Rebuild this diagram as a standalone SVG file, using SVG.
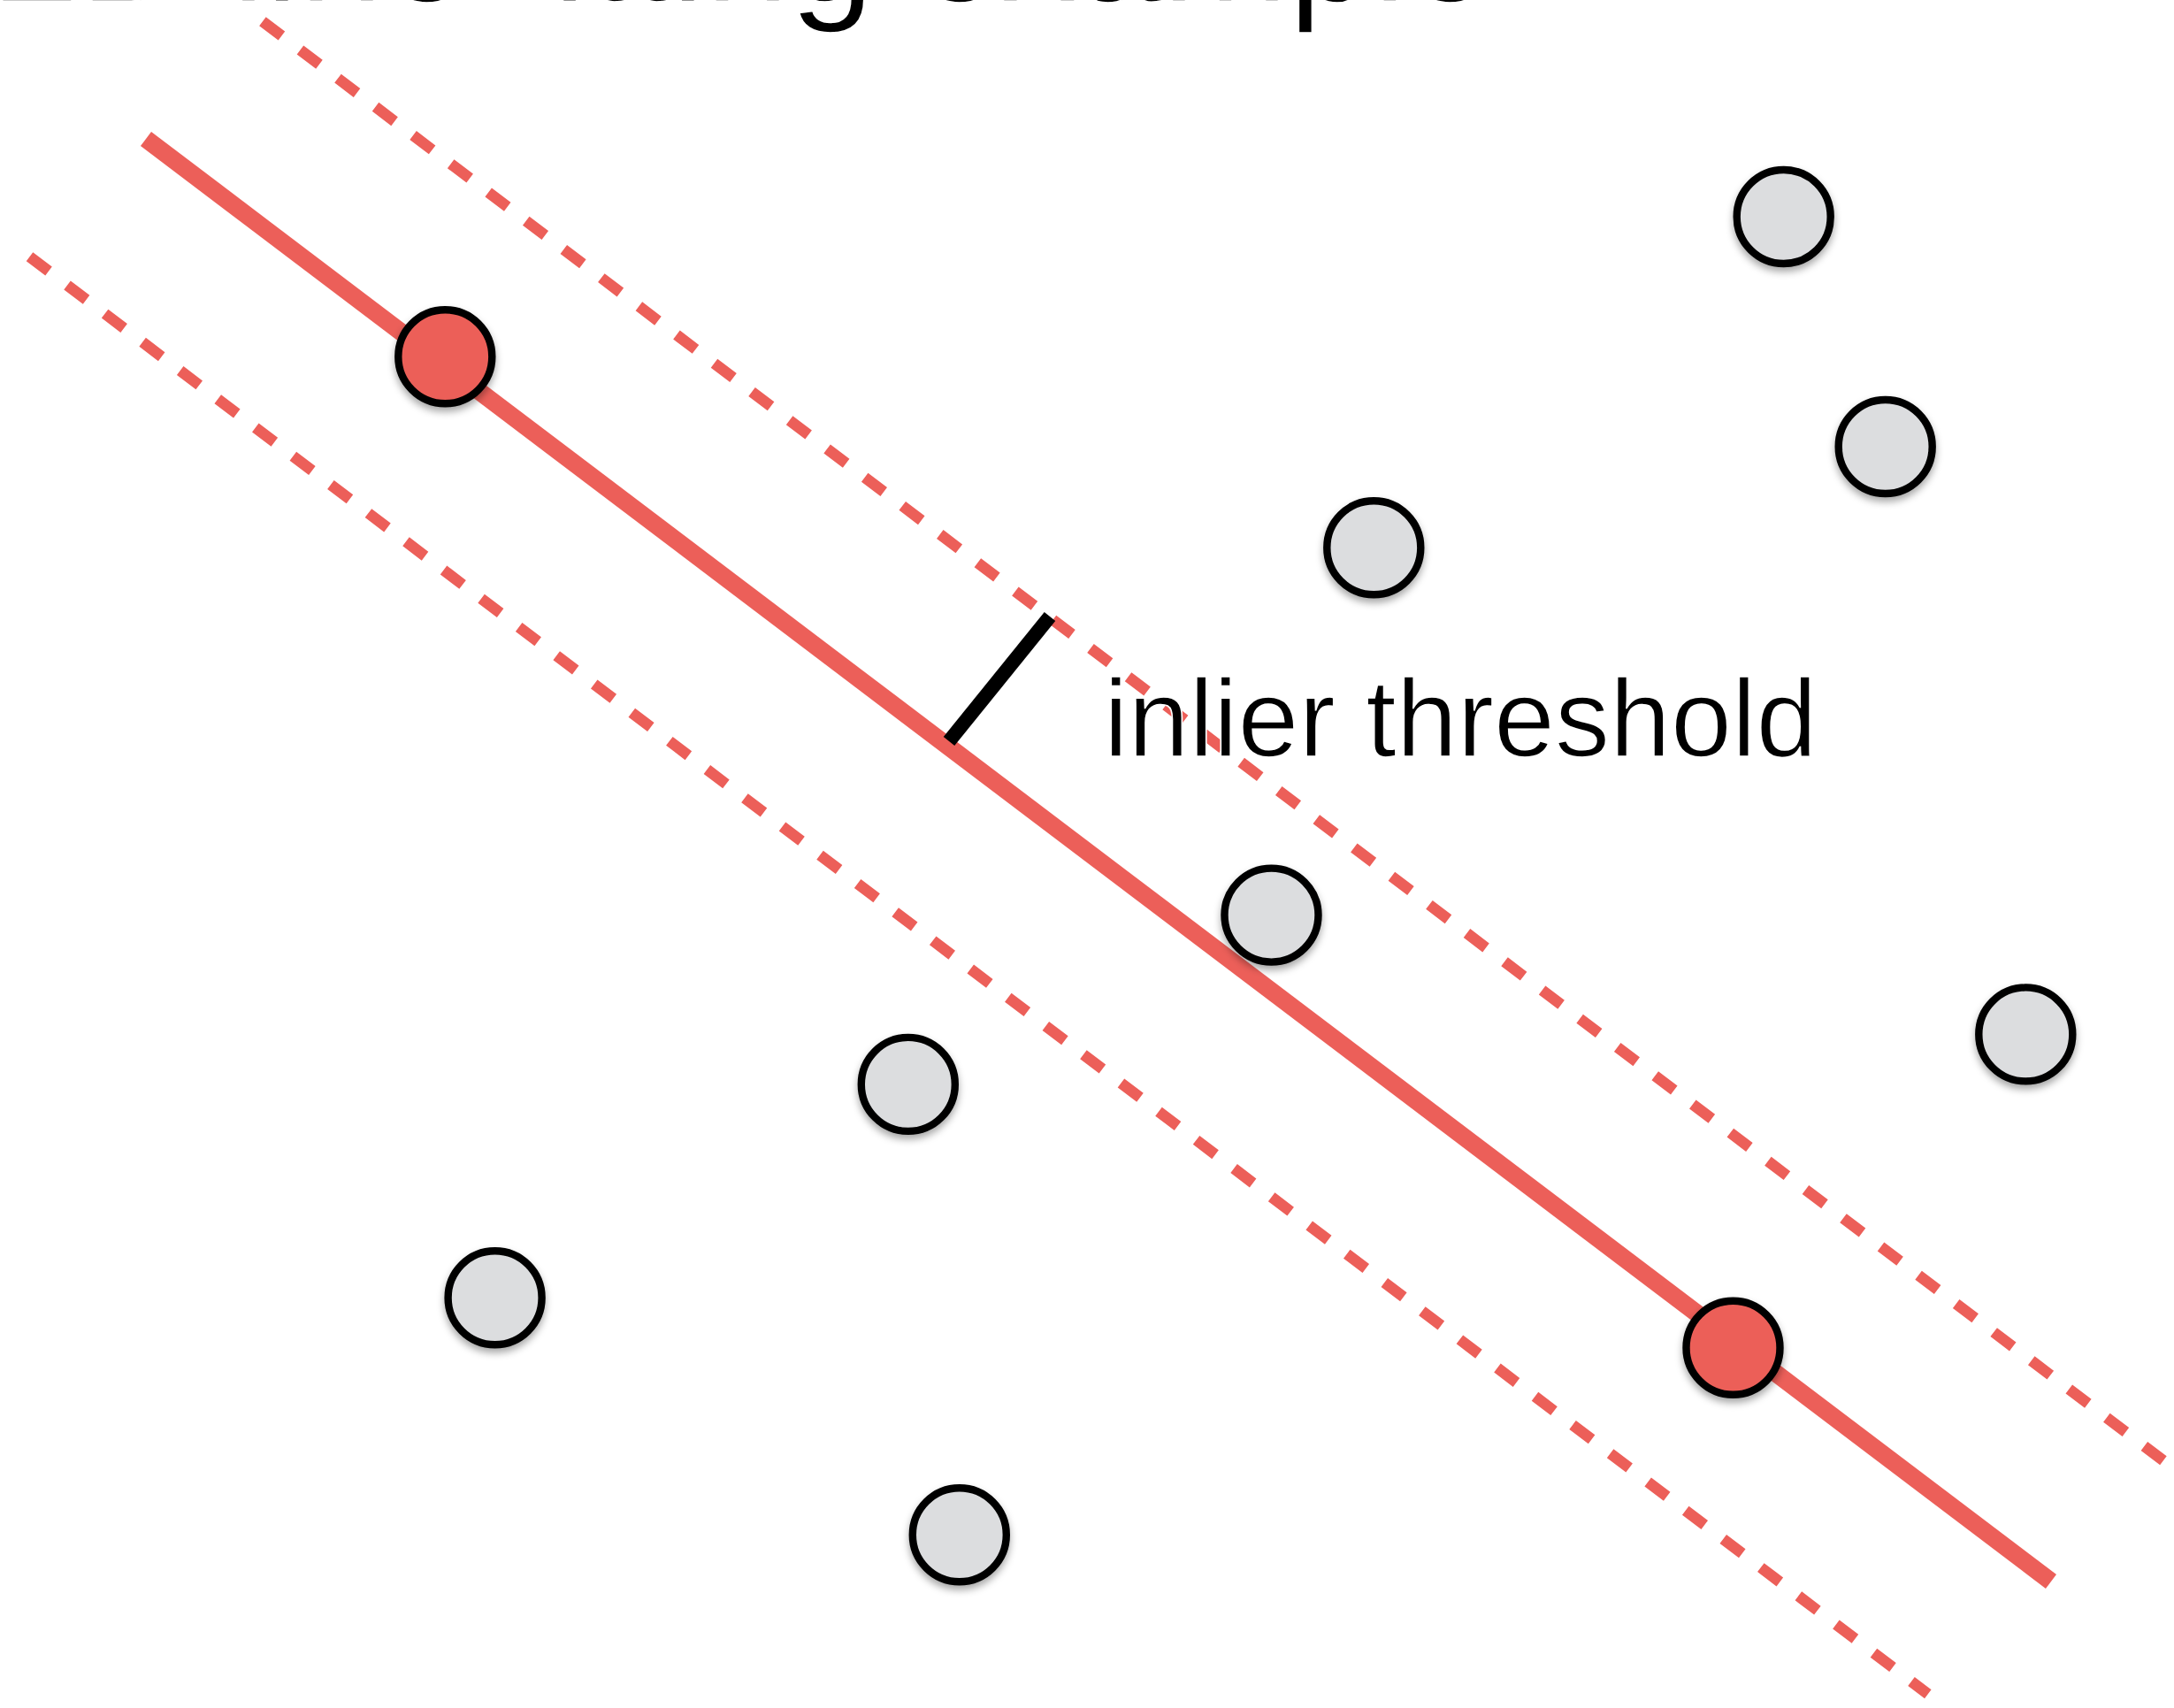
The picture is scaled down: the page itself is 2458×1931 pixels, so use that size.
<svg xmlns="http://www.w3.org/2000/svg" width="2458" height="1931" viewBox="0 0 2458 1931">
  <style>
    .fit { stroke: #EC5F59; stroke-width: 20; fill: none; stroke-linecap: butt; }
    .band { stroke: #EC5F59; stroke-width: 12.5; fill: none; stroke-dasharray: 27 26.37; stroke-linecap: butt; }
    .tick { stroke: #000; stroke-width: 16; stroke-linecap: butt; }
    .pt { stroke: #000; stroke-width: 8.4; filter: url(#shadow); }
    .gray { fill: #DCDDDF; }
    .red { fill: #EC5F59; }
    .label { font-family: "Liberation Sans", Arial, sans-serif; fill: #000; }
    .thin { stroke: #fff; stroke-width: 1.6; paint-order: fill stroke; }
  </style>
  <defs>
    <filter id="shadow" x="-30%" y="-30%" width="160%" height="170%">
      <feDropShadow dx="0" dy="5" stdDeviation="4" flood-color="#000" flood-opacity="0.35"/>
    </filter>
  </defs>
  <rect x="0" y="0" width="2458" height="1931" fill="#fff"/>
  <text class="label thin" x="-6" y="1" font-size="172">2D line fitting example</text>
  <g id="connectors">
    <line class="band" x1="296.9" y1="24.2" x2="2447" y2="1652.1"/>
    <line class="band" x1="33.5" y1="290.2" x2="2179.8" y2="1915.2"/>
    <line class="fit" x1="165" y1="157" x2="2319" y2="1788"/>
    <line class="tick" x1="1073" y1="838" x2="1187" y2="697"/>
  </g>
  <g id="p1"><circle class="pt gray" cx="2016.7" cy="245" r="53"/></g>
  <g id="p2"><circle class="pt gray" cx="2131.7" cy="505" r="53"/></g>
  <g id="p3"><circle class="pt gray" cx="1553.3" cy="619.3" r="53"/></g>
  <g id="p4"><circle class="pt gray" cx="1437.5" cy="1034.6" r="53"/></g>
  <g id="p5"><circle class="pt gray" cx="2290.3" cy="1169.4" r="53"/></g>
  <g id="p6"><circle class="pt gray" cx="1026.8" cy="1225.9" r="53"/></g>
  <g id="p7"><circle class="pt gray" cx="559.6" cy="1467.3" r="53"/></g>
  <g id="p8"><circle class="pt gray" cx="1084.8" cy="1735.3" r="53"/></g>
  <g id="r1"><circle class="pt red" cx="503.3" cy="403.3" r="53"/></g>
  <g id="r2"><circle class="pt red" cx="1959.5" cy="1523.7" r="53"/></g>
  <g id="threshold-label">
    <text class="label thin" x="1248" y="855" font-size="124">inlier threshold</text>
  </g>
</svg>
